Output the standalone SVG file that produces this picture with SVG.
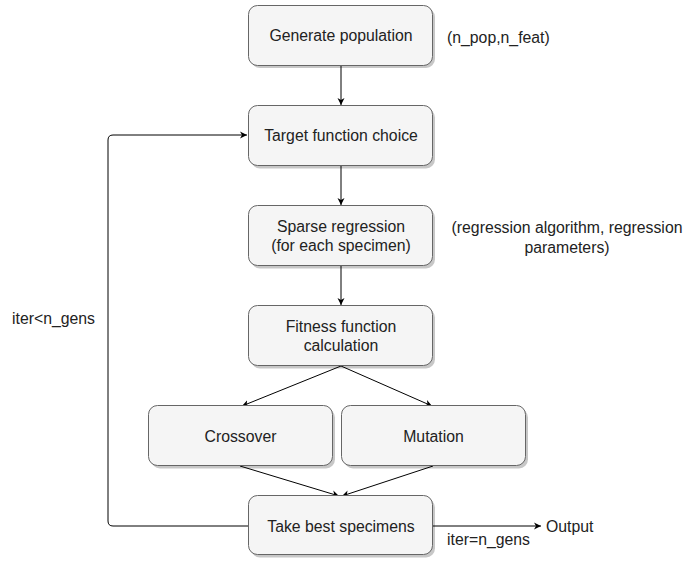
<svg xmlns="http://www.w3.org/2000/svg" width="686" height="561" viewBox="0 0 686 561">
<defs>
<marker id="ah" markerWidth="8" markerHeight="8" refX="7" refY="4" orient="auto" markerUnits="userSpaceOnUse">
<path d="M0,0.5 L7,4 L0,7.5 L2,4 Z" fill="#000"/>
</marker>
<style>
.box{fill:#f5f5f5;stroke:#666;stroke-width:1}
.sh{fill:#000;opacity:0.22}
.t{font-family:"Liberation Sans",Arial,sans-serif;font-size:15.8px;fill:#222;text-anchor:middle;dominant-baseline:central}
.l{font-family:"Liberation Sans",Arial,sans-serif;font-size:15.8px;fill:#222;dominant-baseline:central}
.c{fill:none;stroke:#000;stroke-width:1;marker-end:url(#ah)}
</style>
</defs>
<rect width="686" height="561" fill="#fff"/>
<g id="connectors">
<path class="c" d="M341,65 V105"/>
<path class="c" d="M341,165 V205"/>
<path class="c" d="M341,266 V305"/>
<path class="c" d="M341,366 L242,406"/>
<path class="c" d="M341,366 L432,406"/>
<path class="c" d="M240,466 L339,496"/>
<path class="c" d="M433,466 L342,496"/>
<path class="c" d="M248,526 H113 Q108,526 108,521 V140 Q108,135 113,135 H247"/>
<path class="c" d="M433,526 H541"/>
</g>
<g id="n1"><rect class="sh" x="251" y="8" width="184" height="60" rx="9"/><rect class="box" x="248.5" y="5.5" width="184" height="60" rx="9"/><text class="t" x="341" y="35.5">Generate population</text></g>
<g id="n2"><rect class="sh" x="251" y="108.5" width="184" height="60" rx="9"/><rect class="box" x="248.5" y="105.5" width="184" height="60" rx="9"/><text class="t" x="341" y="135.5">Target function choice</text></g>
<g id="n3"><rect class="sh" x="251" y="208.5" width="184" height="60" rx="9"/><rect class="box" x="248.5" y="205.5" width="184" height="60" rx="9"/><text class="t" x="341" y="226.5">Sparse regression</text><text class="t" x="341" y="245.5">(for each specimen)</text></g>
<g id="n4"><rect class="sh" x="251" y="308.5" width="184" height="60" rx="9"/><rect class="box" x="248.5" y="305.5" width="184" height="60" rx="9"/><text class="t" x="341" y="326.5">Fitness function</text><text class="t" x="341" y="345.5">calculation</text></g>
<g id="n5"><rect class="sh" x="151" y="408.5" width="184" height="60" rx="9"/><rect class="box" x="148.5" y="405.5" width="184" height="60" rx="9"/><text class="t" x="240.5" y="436">Crossover</text></g>
<g id="n6"><rect class="sh" x="344" y="408.5" width="184" height="60" rx="9"/><rect class="box" x="341.5" y="405.5" width="184" height="60" rx="9"/><text class="t" x="433.5" y="436">Mutation</text></g>
<g id="n7"><rect class="sh" x="251" y="498.5" width="184" height="59" rx="9"/><rect class="box" x="248.5" y="495.5" width="184" height="59" rx="9"/><text class="t" x="341" y="526">Take best specimens</text></g>
<g id="labels">
<text class="l" x="447" y="37">(n_pop,n_feat)</text>
<text class="t" x="567" y="227">(regression algorithm, regression</text>
<text class="t" x="567" y="247">parameters)</text>
<text class="l" x="12" y="318">iter&lt;n_gens</text>
<text class="l" x="447" y="539">iter=n_gens</text>
<text class="l" x="546" y="526">Output</text>
</g>
</svg>
